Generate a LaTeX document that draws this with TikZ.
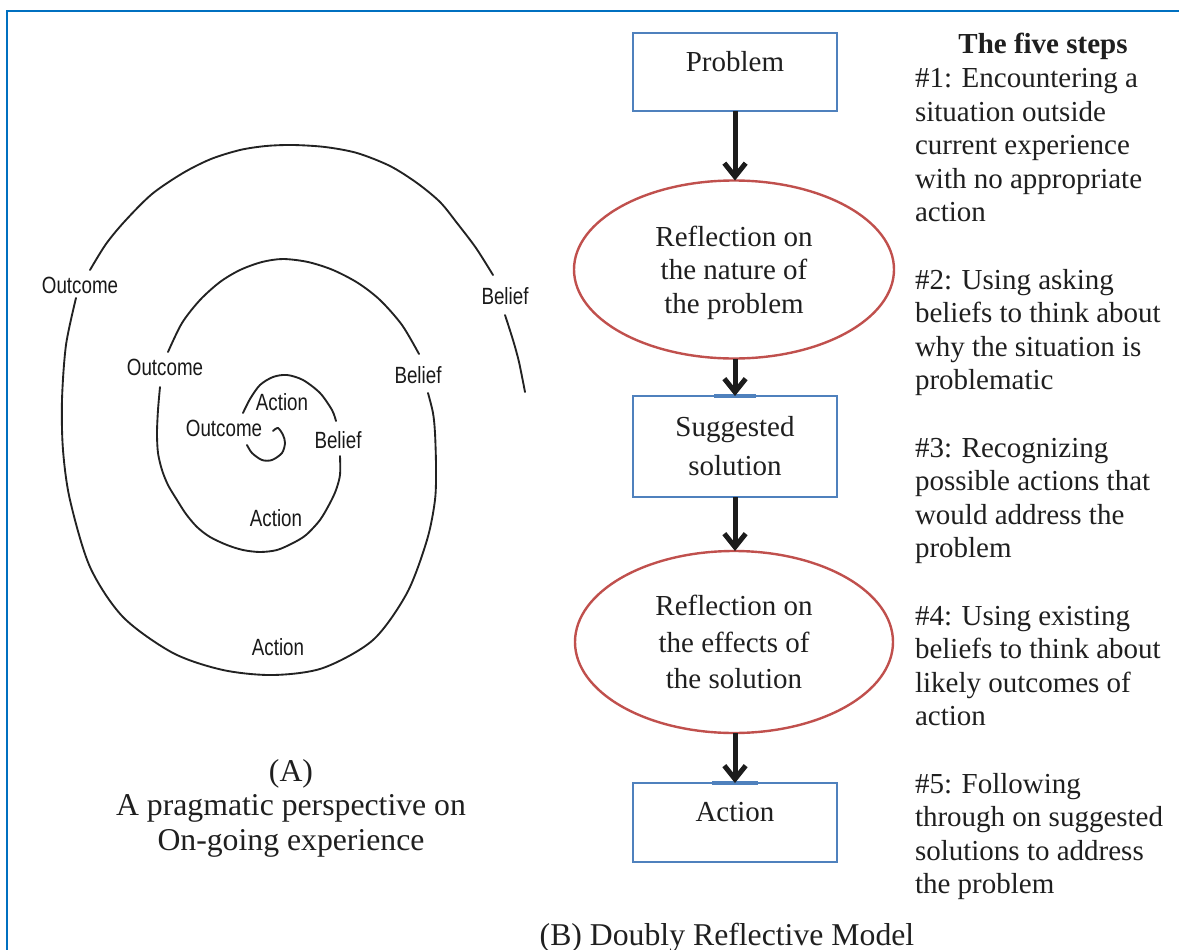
\documentclass[tikz,border=0pt]{standalone}
\usepackage{fontspec}
\setmainfont{Liberation Serif}
\newfontfamily\spiralfont[FakeStretch=0.8]{Liberation Sans}
\usetikzlibrary{arrows.meta,shapes.geometric}

\definecolor{framebl}{HTML}{0070C0}
\definecolor{boxbl}{HTML}{4F81BD}
\definecolor{ellred}{HTML}{C0504D}
\definecolor{arrowblk}{HTML}{1C1C1C}
\definecolor{inkgray}{HTML}{222222}

\begin{document}
\begin{tikzpicture}[x=0.75pt,y=-0.75pt,
  every node/.style={inner sep=0pt,outer sep=0pt},
  bodytext/.style={font=\fontsize{21.75pt}{25.2pt}\selectfont,text=black!88},
  stepbox/.style={rectangle,draw=boxbl,line width=1.6pt,minimum width=153pt,bodytext,align=center},
  reflect/.style={ellipse,draw=ellred,line width=1.8pt,bodytext,align=center},
  flow/.style={draw=arrowblk,line width=3.75pt,-{Straight Barb[length=10pt,width=16pt]}},
  landing/.style={draw=boxbl,line width=3pt},
  spiral/.style={draw=inkgray,line width=1.4pt,line cap=round},
  spirallbl/.style={font=\spiralfont\fontsize{17.6pt}{19pt}\selectfont,text=black!90},
  caption/.style={font=\fontsize{23.8pt}{25.9pt}\selectfont,text=black!88,align=center}
]
\useasboundingbox (0,0) rectangle (1179,950);

% outer frame (only the top and left edges are visible)
\draw[framebl,line width=2.2pt] (7,952) -- (7,11) -- (1181,11);

% ---------- (A) spiral of experience ----------
% innermost curl
\draw[spiral] plot[smooth] coordinates {(273,431) (278,428) (283,435) (285,443) (282,453) (272,460) (262,460) (252,453) (247,445)};
% inner turn
\draw[spiral] plot[smooth] coordinates {(243,413) (250,399) (260,385) (273,377) (287,375) (303,380) (320,393) (332,410) (336,421)};
\draw[spiral] plot[smooth] coordinates {(340,456) (340,475) (336,490) (330,503) (320,520) (306,535) (293,543) (277,550) (260,552) (243,550) (227,545) (210,537) (197,527) (186,514) (177,500) (168,485) (162,470) (158,453) (157,433) (158,410) (160,387)};
% middle turn
\draw[spiral] plot[smooth] coordinates {(168,352) (182,323) (200,300) (220,282) (240,270) (262,262) (283,259) (308,262) (333,270) (358,283) (380,300) (402,325) (419,354)};
\draw[spiral] plot[smooth] coordinates {(428,393) (433,413) (435,433) (436,467) (435,500) (427,540) (407,593) (373,640) (323,668) (273,675) (223,670) (173,653) (123,617) (90,567) (70,500) (63,450) (62,400) (66,345) (76,298)};
% outer turn
\draw[spiral] plot[smooth] coordinates {(90,270) (106,244) (125,221) (152,194) (183,173) (211,159) (240,150) (266,146) (293,145) (325,147) (357,153) (390,166) (417,183) (440,202) (457,223) (476,248) (493,275)};
\draw[spiral] plot[smooth] coordinates {(505,315) (513,340) (519,362) (525,392)};

\node[spirallbl] (out1) at (80,285) {Outcome};
\node[spirallbl] (bel1) at (505,296) {Belief};
\node[spirallbl] (out2) at (165,367) {Outcome};
\node[spirallbl] (bel2) at (418,375) {Belief};
\node[spirallbl] (act3) at (282,402) {Action};
\node[spirallbl] (out3) at (224,428) {Outcome};
\node[spirallbl] (bel3) at (338,440) {Belief};
\node[spirallbl] (act2) at (276,518) {Action};
\node[spirallbl] (act1) at (278,647) {Action};

\node[caption] (capA) at (291,808) {(A)\\A pragmatic perspective on\\On-going experience};

% ---------- (B) doubly reflective model ----------
\node[stepbox,minimum height=58.5pt,text depth=15.75pt] (prob) at (735,72) {Problem};
\node[reflect,minimum width=240pt,minimum height=133.5pt,
      font=\fontsize{21.75pt}{25pt}\selectfont,text depth=0pt] (refl1) at (734,269.5)
      {Reflection on\\the nature of\\the problem};
\node[stepbox,minimum height=75.75pt,font=\fontsize{21.75pt}{29.25pt}\selectfont] (sugg) at (735,446.5) {Suggested\\solution};
\node[reflect,minimum width=238.5pt,minimum height=136.5pt,
      font=\fontsize{21.75pt}{27.5pt}\selectfont] (refl2) at (734,642)
      {Reflection on\\the effects of\\the solution};
\node[stepbox,minimum height=59.25pt,text depth=15.75pt] (act) at (735,822.5) {Action};

\draw[landing] ([xshift=-15.75pt]sugg.north) -- ([xshift=15.75pt]sugg.north);
\draw[landing] ([xshift=-17pt]act.north) -- ([xshift=17pt]act.north);

\draw[flow] (prob.south -| 735,0) -- (refl1.north -| 735,0);
\draw[flow] (refl1.south -| 735,0) -- (sugg.north -| 735,0);
\draw[flow] (sugg.south -| 735,0) -- (refl2.north -| 735,0);
\draw[flow] (refl2.south -| 735,0) -- (act.north -| 735,0);

% the five steps
\node[bodytext,font=\bfseries\fontsize{21.75pt}{25.2pt}\selectfont,anchor=base] (steptitle) at (1043,53) {The five steps};
\node[bodytext,anchor=north west,align=left] (steps) at (915,68.3) {%
\#1: Encountering a\\situation outside\\current experience\\with no appropriate\\action\\[25.2pt]
\#2: Using asking\\beliefs to think about\\why the situation is\\problematic\\[25.2pt]
\#3: Recognizing\\possible actions that\\would address the\\problem\\[25.2pt]
\#4: Using existing\\beliefs to think about\\likely outcomes of\\action\\[25.2pt]
\#5: Following\\through on suggested\\solutions to address\\the problem};

\node[caption,anchor=base] (capB) at (727,945) {(B) Doubly Reflective Model};
\end{tikzpicture}
\end{document}
